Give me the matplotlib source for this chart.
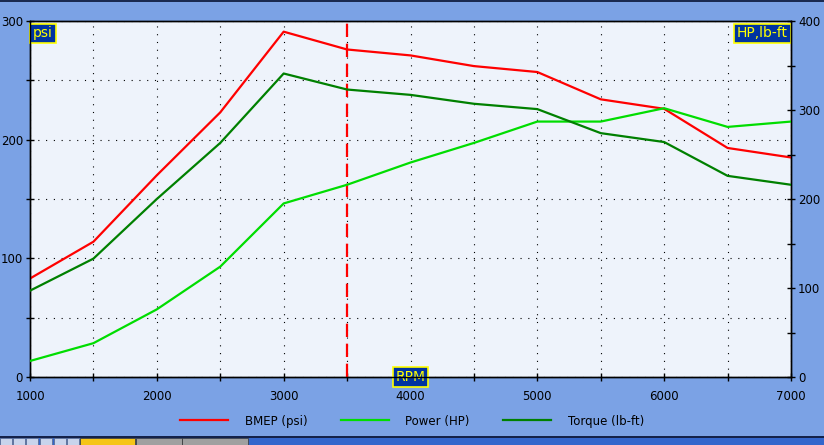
import numpy as np
import matplotlib.pyplot as plt
from matplotlib.patches import Rectangle
from matplotlib.ticker import MultipleLocator

# engine data
rpm = [1000, 1500, 2000, 2500, 3000, 3500, 4000, 4500, 5000, 5500, 6000, 6500, 7000]
bmep = [83, 114, 170, 223, 291, 276, 271, 262, 257, 234, 226, 193, 185]
power = [18, 38, 76, 124, 195, 216, 241, 263, 287, 287, 302, 281, 287]
torque = [97, 133, 200, 263, 341, 323, 317, 307, 301, 274, 264, 226, 216]
marker_rpm = 3500

bg = '#7BA2E5'
box_blue = '#0033A0'

fig = plt.figure(figsize=(8.24, 4.45), dpi=100, facecolor=bg)
W, H = 824, 445
ax = fig.add_axes([30 / W, 1 - 377 / H, 761 / W, 356 / H])
ax.set_facecolor('#EEF3FB')
ax2 = ax.twinx()

ax.plot(rpm, bmep, color='#FF0000', lw=1.6, label='BMEP (psi)', zorder=3)
ax2.plot(rpm, power, color='#00DD00', lw=1.6, label='Power (HP)', zorder=3)
ax2.plot(rpm, torque, color='#008000', lw=1.6, label='Torque (lb-ft)', zorder=3)
ax.axvline(marker_rpm, color='#FF0000', lw=1.6, linestyle=(0, (6, 3)), zorder=4)

ax.set_xlim(1000, 7000)
ax.set_ylim(0, 300)
ax2.set_ylim(0, 400)
ax.xaxis.set_major_locator(MultipleLocator(1000))
ax.xaxis.set_minor_locator(MultipleLocator(500))
ax.yaxis.set_major_locator(MultipleLocator(100))
ax.yaxis.set_minor_locator(MultipleLocator(50))
ax2.yaxis.set_major_locator(MultipleLocator(100))
ax2.yaxis.set_minor_locator(MultipleLocator(50))

grid_style = dict(color='black', lw=0.8, linestyle=(0, (1, 6)))
ax.grid(True, which='both', **grid_style)
ax.set_axisbelow(True)

for a in (ax, ax2):
    a.tick_params(which='both', direction='inout', length=6, width=1, colors='black',
                  labelsize=8.5, pad=2)
    for s in a.spines.values():
        s.set_color('black')
        s.set_linewidth(1)
ax.tick_params(axis='x', pad=6)
ax2.patch.set_visible(False)

label_box = dict(boxstyle='square,pad=0.2', fc=box_blue, ec='#FFFF00', lw=1.2)
ax.text(0.004, 0.985, 'psi', transform=ax.transAxes, ha='left', va='top',
        color='#FFFF00', fontsize=10, bbox=label_box, zorder=5)
ax.text(0.996, 0.985, 'HP,lb-ft', transform=ax.transAxes, ha='right', va='top',
        color='#FFFF00', fontsize=10, bbox=label_box, zorder=5)
ax.text(4000, 0, 'RPM', ha='center', va='center', color='#FFFF00', fontsize=10,
        bbox=label_box, zorder=6, clip_on=False)

h1, l1 = ax.get_legend_handles_labels()
h2, l2 = ax2.get_legend_handles_labels()
fig.legend(h1 + h2, l1 + l2, loc='center', bbox_to_anchor=(0.5, 1 - 421 / H), ncol=3,
           frameon=False, fontsize=8.5, handlelength=4.1, columnspacing=2.8, handletextpad=1.4)

# window frame bits
fig.add_artist(Rectangle((0, 1 - 2 / H), 1, 2 / H, transform=fig.transFigure,
                         color='#1A2A50', lw=0))
fig.add_artist(Rectangle((0, 0), 1, 8 / H, transform=fig.transFigure,
                         color='#3366CC', lw=0))
fig.add_artist(Rectangle((0, 7 / H), 1, 2 / H, transform=fig.transFigure,
                         color='#14224A', lw=0))
for x0 in [0, 13, 26, 40, 54, 67]:
    fig.add_artist(Rectangle((x0 / W, 0), 12 / W, 7 / H, transform=fig.transFigure,
                             fc='#C8D4EC', ec='#556688', lw=0.5))
fig.add_artist(Rectangle((80 / W, 0), 55 / W, 7 / H, transform=fig.transFigure,
                         fc='#F5C518', ec='#333333', lw=0.5))
fig.add_artist(Rectangle((136 / W, 0), 46 / W, 7 / H, transform=fig.transFigure,
                         fc='#A0A0A0', ec='#333333', lw=0.5))
fig.add_artist(Rectangle((182 / W, 0), 66 / W, 7 / H, transform=fig.transFigure,
                         fc='#A0A0A0', ec='#333333', lw=0.5))

fig.savefig('out.png', dpi=100, facecolor=bg)
